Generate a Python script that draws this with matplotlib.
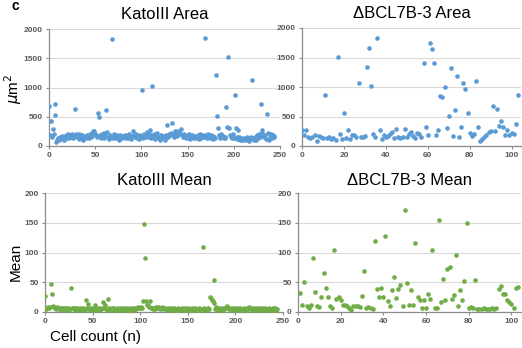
import numpy as np
import matplotlib
matplotlib.use("Agg")
import matplotlib.pyplot as plt

plt.rcParams['font.family'] = ['Liberation Sans', 'DejaVu Sans']

# -----------------------------
# Data
# -----------------------------
kato_area = [
    690, 180, 430, 155, 290, 200, 720, 530, 75, 110,
    130, 95, 150, 120, 170, 140, 110, 160, 190, 130,
    175, 200, 140, 190, 160, 200, 130, 170, 640, 210,
    150, 180, 120, 200, 160, 140, 190, 110, 170, 150,
    130, 180, 160, 140, 200, 150, 170, 220, 250, 260,
    210, 180, 150, 560, 500, 190, 140, 200, 170, 130,
    220, 180, 610, 240, 160, 120, 190, 150, 1830, 140,
    200, 170, 130, 160, 190, 150, 110, 180, 160, 140,
    170, 150, 190, 130, 160, 180, 140, 200, 150, 120,
    170, 260, 180, 150, 200, 140, 160, 120, 190, 150,
    170, 960, 130, 200, 150, 180, 240, 160, 210, 270,
    140, 180, 1030, 150, 200, 120, 170, 230, 160, 140,
    110, 190, 150, 130, 170, 100, 140, 180, 355, 160,
    200, 180, 230, 390, 210, 160, 250, 190, 220, 170,
    260, 200, 230, 290, 180, 150, 200, 170, 130, 160,
    180, 140, 200, 120, 160, 190, 150, 130, 170, 140,
    150, 180, 120, 200, 160, 140, 170, 190, 150, 1840,
    180, 140, 200, 160, 130, 190, 150, 170, 120, 160,
    140, 1220, 505, 310, 180, 130, 200, 150, 170, 140,
    160, 130, 660, 330, 1520, 300, 180, 150, 130, 200,
    140, 875, 310, 160, 120, 270, 150, 100, 130, 110,
    120, 140, 100, 130, 150, 110, 90, 140, 120, 160,
    1125, 130, 100, 150, 110, 180, 140, 200, 160, 710,
    230, 270, 190, 150, 180, 120, 540, 220, 100, 160,
    200, 130, 180, 150, 170,
]

bcl_area = [
    270, 190, 270, 150, 130, 160, 180, 85, 170, 150,
    140, 870, 130, 150, 120, 140, 105, 1515, 210, 120,
    565, 140, 270, 125, 180, 190, 160, 1070, 150, 155,
    170, 1335, 1665, 1020, 210, 150, 1825, 270, 125, 190,
    150, 170, 210, 230, 140, 280, 150, 140, 160, 280,
    150, 200, 230, 170, 140, 220, 200, 160, 1400, 320,
    190, 1750, 1650, 1410, 180, 275, 845, 835, 1005, 305,
    510, 1330, 175, 605, 1180, 160, 320, 1065, 965, 565,
    225, 165, 210, 1110, 320, 85, 125, 150, 180, 240,
    260, 670, 250, 625, 335, 420, 320, 190, 265, 180,
    220, 210, 380, 860,
]

kato_mean = [
    27, 5, 7, 8, 6, 9, 47, 31, 10, 8,
    7, 6, 5, 8, 6, 5, 7, 4, 6, 5,
    6, 4, 7, 5, 6, 4, 5, 41, 6, 7,
    5, 4, 6, 5, 7, 4, 5, 6, 4, 5,
    6, 5, 4, 21, 7, 14, 5, 4, 6, 5,
    4, 6, 11, 5, 7, 4, 5, 6, 4, 5,
    7, 16, 6, 12, 5, 4, 22, 6, 5, 4,
    6, 5, 4, 6, 5, 4, 5, 6, 4, 5,
    6, 4, 5, 6, 4, 5, 6, 4, 5, 6,
    4, 5, 6, 4, 5, 7, 5, 6, 8, 6,
    7, 9, 6, 18, 148, 91, 18, 12, 11, 8,
    18, 7, 6, 5, 7, 6, 5, 8, 6, 9,
    7, 5, 6, 8, 5, 7, 6, 5, 4, 6,
    5, 4, 6, 5, 4, 5, 6, 4, 5, 4,
    6, 5, 4, 5, 6, 4, 5, 6, 4, 5,
    6, 4, 5, 4, 6, 5, 4, 5, 6, 4,
    5, 4, 6, 5, 4, 5, 109, 6, 4, 5,
    4, 6, 5, 26, 24, 21, 18, 15, 54, 5,
    8, 4, 5, 6, 4, 5, 6, 4, 5, 7,
    8, 10, 6, 5, 4, 6, 5, 4, 5, 6,
    4, 5, 6, 4, 5, 6, 4, 5, 4, 6,
    5, 4, 6, 5, 8, 7, 5, 4, 6, 5,
    4, 5, 6, 4, 5, 6, 4, 5, 6, 4,
    5, 6, 4, 5, 4, 6, 5, 4, 5, 6,
    4, 5, 6, 4, 5,
]

bcl_mean = [
    32, 12, 50, 10, 7, 12, 90, 33, 10, 8,
    25, 65, 41, 25, 10, 7, 104, 22, 25, 21,
    12, 11, 10, 7, 4, 10, 10, 10, 8, 27,
    69, 7, 8, 6, 5, 119, 38, 25, 40, 25,
    128, 18, 10, 37, 58, 24, 38, 45, 10, 172,
    49, 12, 37, 11, 116, 25, 21, 7, 20, 7,
    30, 22, 104, 6, 6, 154, 16, 56, 21, 72,
    75, 22, 28, 96, 10, 37, 20, 52, 150, 7,
    8, 6, 54, 5, 5, 5, 6, 5, 5, 5,
    6, 5, 6, 39, 44, 30, 30, 21, 16, 14,
    7, 41, 42,
]

blue = "#5B9BD5"
green = "#70AD47"
grid_color = "#D9D9D9"
axis_color = "#8C8C8C"
tick_color = "#595959"

W, H = 522, 348
fig = plt.figure(figsize=(W / 100, H / 100), dpi=100)


def make_ax(left, top, right, bottom):
    # pixel box -> figure fraction
    return fig.add_axes([left / W, 1 - bottom / H, (right - left) / W, (bottom - top) / H])


def style(ax, xmax, xticks, ymax, yticks, title, title_pad):
    ax.set_xlim(0, xmax)
    ax.set_ylim(0, ymax)
    ax.set_xticks(xticks)
    ax.set_yticks(yticks)
    ax.grid(axis='y', color=grid_color, linewidth=0.8)
    ax.set_axisbelow(True)
    for s in ['top', 'right']:
        ax.spines[s].set_visible(False)
    for s in ['left', 'bottom']:
        ax.spines[s].set_color(axis_color)
        ax.spines[s].set_linewidth(0.9)
    ax.tick_params(axis='both', length=2.5, width=0.8, color=axis_color,
                   labelsize=6, labelcolor=tick_color, pad=2)
    for lab in ax.get_xticklabels() + ax.get_yticklabels():
        lab.set_fontweight('bold')
    ax.set_title(title, fontsize=12, pad=title_pad)


ax1 = make_ax(49, 29, 280, 146)
ax1.scatter(np.arange(len(kato_area)), kato_area, s=11, color=blue, linewidths=0, zorder=3)
style(ax1, 250, [0, 50, 100, 150, 200, 250], 2000, [0, 500, 1000, 1500, 2000], "KatoIII Area", 7)

ax2 = make_ax(302, 28, 521, 146)
ax2.scatter(np.arange(len(bcl_area)), bcl_area, s=11, color=blue, linewidths=0, zorder=3)
style(ax2, 104.5, [0, 20, 40, 60, 80, 100], 2000, [0, 500, 1000, 1500, 2000], "\u0394BCL7B-3 Area", 7)

ax3 = make_ax(45, 193, 283, 312)
ax3.scatter(np.arange(len(kato_mean)), kato_mean, s=11, color=green, linewidths=0, zorder=3)
style(ax3, 250, [0, 50, 100, 150, 200, 250], 200, [0, 50, 100, 150, 200], "KatoIII Mean", 6)

ax4 = make_ax(298, 193, 521, 312)
ax4.scatter(np.arange(1, len(bcl_mean) + 1), bcl_mean, s=11, color=green, linewidths=0, zorder=3)
style(ax4, 104.5, [0, 20, 40, 60, 80, 100], 200, [0, 50, 100, 150, 200], "\u0394BCL7B-3 Mean", 6)

# Axis labels placed like the original figure
fig.text(13 / W, 1 - 89 / H, r"$\mu$m$^2$", rotation=90, ha='center', va='center', fontsize=11)
fig.text(16 / W, 1 - 262 / H, "Mean", rotation=90, ha='center', va='center', fontsize=11)
fig.text(95 / W, 1 - 337 / H, "Cell count (n)", ha='center', va='center', fontsize=11)
fig.text(15 / W, 1 - 6 / H, "c", ha='center', va='center', fontsize=10, fontweight='bold')

fig.savefig("out.png", dpi=100)
